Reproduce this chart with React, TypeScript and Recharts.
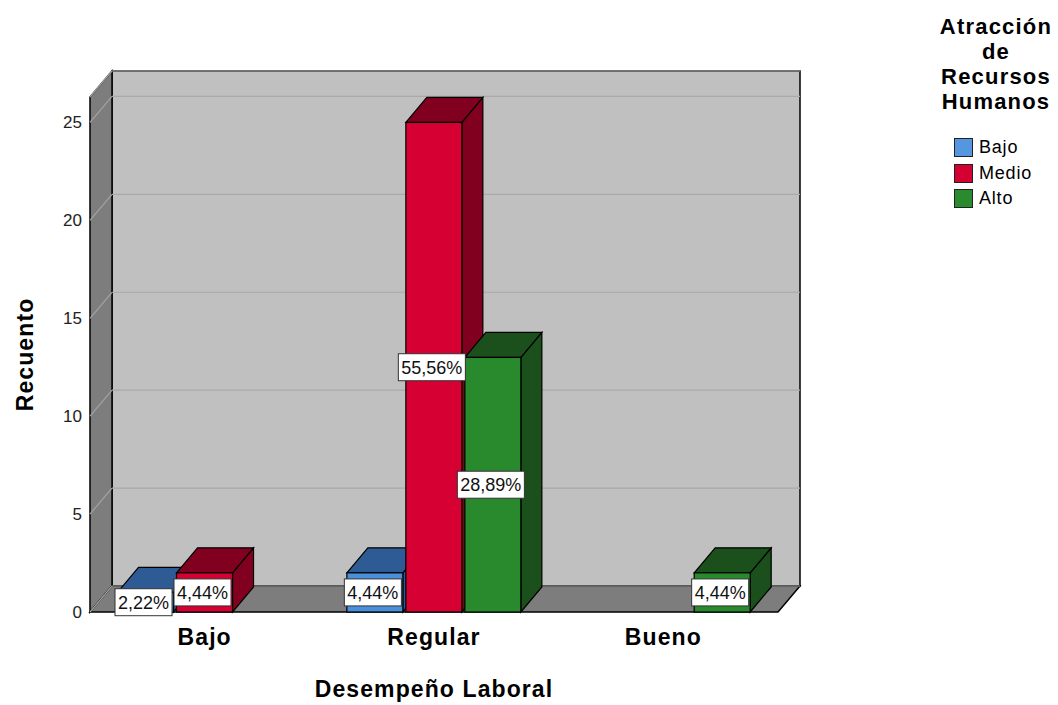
import React from "react";
import {
    BarChart,
    Bar,
    XAxis,
    YAxis,
    CartesianGrid,
    ReferenceArea,
    LabelList,
} from "recharts";

// Recuento por Desempeño Laboral y Atracción de Recursos Humanos
const categories = ["Bajo", "Regular", "Bueno"];
const bajoCounts = [1, 2, 0];
const medioCounts = [2, 25, 0];
const altoCounts = [0, 13, 2];
const yTicks = [0, 5, 10, 15, 20, 25];
const Y_MAX = 26.3;

const legendTitle = ["Atracción", "de", "Recursos", "Humanos"];

const series = [
    { key: "Bajo", front: "#4a8fdc", shade: "#2f5b94", swatch: "#5596e0" }, // blue
    { key: "Medio", front: "#d60032", shade: "#82001f", swatch: "#d50032" }, // red
    { key: "Alto", front: "#288a2c", shade: "#1b4f1b", swatch: "#2a8a2e" }, // green
];

const total = [...bajoCounts, ...medioCounts, ...altoCounts].reduce((a, b) => a + b, 0);

const data = categories.map((name, i) => ({
    name,
    Bajo: bajoCounts[i],
    Medio: medioCounts[i],
    Alto: altoCounts[i],
}));

const FONT = "Arial, 'Liberation Sans', Helvetica, sans-serif";
const TITLE_SIZE = 23;
const TITLE_SPACING = 1.1;

// depth of the box (walls/floor) and of each bar
const WALL_DX = 22;
const WALL_DY = 26;
const BAR_DX = 21;
const BAR_DY = 25;

const pct = (v: number) => ((v / total) * 100).toFixed(2).replace(".", ",") + "%";

// rough Arial width for the label boxes
const textWidth = (s: string, size: number) => {
    let w = 0;
    for (const ch of s) {
        if (ch === ",") w += 0.278;
        else if (ch === "%") w += 0.889;
        else w += 0.556;
    }
    return w * size;
};

function Walls(props: any) {
    const { x, y, width, height } = props;
    const bottom = y + height;
    const right = x + width;
    return (
        <g>
            <rect
                x={x + WALL_DX}
                y={y - WALL_DY}
                width={width}
                height={height}
                fill="#c0c0c0"
                stroke="#000"
                strokeWidth={1.5}
            />
            <polygon
                points={`${x},${y} ${x + WALL_DX},${y - WALL_DY} ${x + WALL_DX},${bottom - WALL_DY} ${x},${bottom}`}
                fill="#7d7d7d"
                stroke="#000"
                strokeWidth={1.5}
            />
            <polygon
                points={`${x},${bottom} ${x + WALL_DX},${bottom - WALL_DY} ${right + WALL_DX},${bottom - WALL_DY} ${right},${bottom}`}
                fill="#7d7d7d"
                stroke="#000"
                strokeWidth={1.5}
            />
        </g>
    );
}

function gridLine(p: any) {
    const { x1, y1, x2 } = p;
    return (
        <g key={p.key ?? `grid-${p.index}`}>
            <line x1={x1 + WALL_DX} y1={y1 - WALL_DY} x2={x2 + WALL_DX} y2={y1 - WALL_DY} stroke="#a9a9a9" strokeWidth={1.2} />
            <line x1={x1} y1={y1} x2={x1 + WALL_DX} y2={y1 - WALL_DY} stroke="#a3a3a3" strokeWidth={1.2} />
        </g>
    );
}

const makeBarShape = (front: string, shade: string) => (props: any) => {
    const x = Number(props.x);
    const y = Number(props.y);
    const w = Number(props.width);
    const h = Number(props.height);
    if (!h || h <= 0) return <g />;
    return (
        <g>
            <polygon
                points={`${x + w},${y} ${x + w + BAR_DX},${y - BAR_DY} ${x + w + BAR_DX},${y + h - BAR_DY} ${x + w},${y + h}`}
                fill={shade}
                stroke="#000"
                strokeWidth={1.2}
            />
            <polygon
                points={`${x},${y} ${x + BAR_DX},${y - BAR_DY} ${x + w + BAR_DX},${y - BAR_DY} ${x + w},${y}`}
                fill={shade}
                stroke="#000"
                strokeWidth={1.2}
            />
            <rect x={x} y={y} width={w} height={h} fill={front} stroke="#000" strokeWidth={1.2} />
        </g>
    );
};

function PctLabel(props: any) {
    const v = Number(props.value);
    if (!v) return null;
    const x = Number(props.x);
    const y = Number(props.y);
    const w = Number(props.width);
    const h = Number(props.height);
    const text = pct(v);
    const bw = textWidth(text, 18) + 6;
    const bh = 27;
    const cx = x + w / 2 - 2;
    const cy = y + h / 2;
    return (
        <g>
            <rect x={cx - bw / 2} y={cy - bh / 2} width={bw} height={bh} fill="#fff" stroke="#333" strokeWidth={1} />
            <text x={cx} y={cy + 6.5} textAnchor="middle" fontSize={18} fontFamily={FONT} fill="#111">
                {text}
            </text>
        </g>
    );
}

function CategoryTick(props: any) {
    const { x, y, payload } = props;
    return (
        <text
            x={x}
            y={y + 15}
            textAnchor="middle"
            fontSize={TITLE_SIZE}
            fontWeight="bold"
            fontFamily={FONT}
            fill="#000"
            style={{ letterSpacing: TITLE_SPACING }}
        >
            {payload.value}
        </text>
    );
}

function CountTick(props: any) {
    const { x, y, payload } = props;
    return (
        <text x={x} y={y + 6} textAnchor="end" fontSize={17} fontFamily={FONT} fill="#222">
            {payload.value}
        </text>
    );
}

const yTitle = (props: any) => {
    const vb = props.viewBox ?? { x: 0, y: 97, width: 90, height: 515 };
    const cx = vb.x + 25;
    const cy = vb.y + vb.height / 2;
    return (
        <text
            x={cx}
            y={cy}
            transform={`rotate(-90, ${cx}, ${cy})`}
            textAnchor="middle"
            dominantBaseline="central"
            fontSize={TITLE_SIZE}
            fontWeight="bold"
            fontFamily={FONT}
            fill="#000"
            style={{ letterSpacing: TITLE_SPACING }}
        >
            Recuento
        </text>
    );
};

const xTitle = (props: any) => {
    const vb = props.viewBox ?? { x: 90, y: 612, width: 688, height: 93 };
    return (
        <text
            x={vb.x + vb.width / 2}
            y={vb.y + 85}
            textAnchor="middle"
            fontSize={TITLE_SIZE}
            fontWeight="bold"
            fontFamily={FONT}
            fill="#000"
            style={{ letterSpacing: TITLE_SPACING }}
        >
            Desempeño Laboral
        </text>
    );
};

export default function App() {
    return (
        <div style={{ position: "absolute", left: 0, top: 0, width: 1058, height: 705, background: "#fff" }}>
            <BarChart
                width={1058}
                height={705}
                data={data}
                margin={{ top: 97, right: 280, bottom: 0, left: 0 }}
                barCategoryGap="12%"
                barGap={3}
            >
                <ReferenceArea y1={0} y2={Y_MAX} shape={Walls} ifOverflow="visible" zIndex={-200} />
                <CartesianGrid vertical={false} horizontal={gridLine} />
                <XAxis
                    dataKey="name"
                    height={93}
                    axisLine={false}
                    tickLine={false}
                    tickSize={0}
                    tickMargin={18}
                    tick={<CategoryTick />}
                    label={xTitle}
                />
                <YAxis
                    type="number"
                    domain={[0, Y_MAX]}
                    ticks={yTicks}
                    width={90}
                    axisLine={false}
                    tickLine={false}
                    tickSize={0}
                    tickMargin={8}
                    tick={<CountTick />}
                    label={yTitle}
                />
                {series.map((s) => (
                    <Bar
                        key={s.key}
                        dataKey={s.key}
                        fill={s.swatch}
                        shape={makeBarShape(s.front, s.shade)}
                        isAnimationActive={false}
                    >
                        <LabelList dataKey={s.key} content={PctLabel} />
                    </Bar>
                ))}
            </BarChart>
            <div
                style={{
                    position: "absolute",
                    left: 930,
                    top: 14,
                    width: 132,
                    fontFamily: FONT,
                    color: "#000",
                }}
            >
                <div
                    style={{
                        textAlign: "center",
                        fontSize: 22,
                        fontWeight: "bold",
                        lineHeight: "25px",
                        letterSpacing: 1.2,
                    }}
                >
                    {legendTitle.map((t) => (
                        <div key={t}>{t}</div>
                    ))}
                </div>
                <div style={{ marginTop: 21, marginLeft: 24 }}>
                    {series.map((s) => (
                        <div key={s.key} style={{ display: "flex", alignItems: "center", height: 25.5 }}>
                            <span
                                style={{
                                    display: "inline-block",
                                    width: 17,
                                    height: 17,
                                    background: s.swatch,
                                    border: "1.5px solid #222",
                                    marginRight: 6,
                                }}
                            />
                            <span style={{ fontSize: 18, letterSpacing: 0.8 }}>{s.key}</span>
                        </div>
                    ))}
                </div>
            </div>
        </div>
    );
}
